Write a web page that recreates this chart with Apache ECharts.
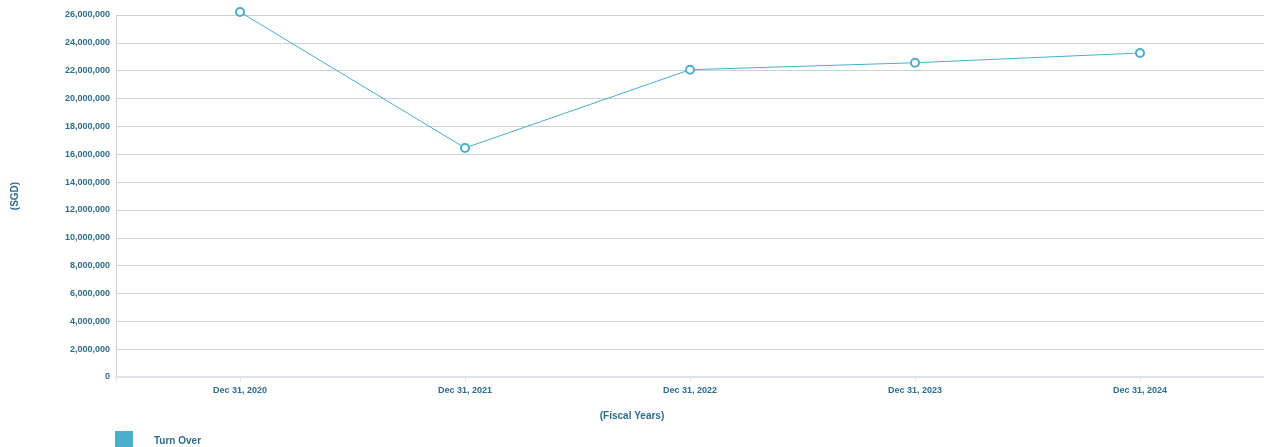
<!DOCTYPE html>
<html>
<head>
<meta charset="utf-8">
<script src="https://cdn.jsdelivr.net/npm/echarts@6/dist/echarts.min.js"></script>
<style>
html, body { margin: 0; padding: 0; background: #fff; }
#chart { width: 1264px; height: 447px; }
</style>
</head>
<body>
<div id="chart"></div>
<script>
// fiscal year ends and turnover (SGD)
const years = ['Dec 31, 2020', 'Dec 31, 2021', 'Dec 31, 2022', 'Dec 31, 2023', 'Dec 31, 2024'];
const turnOver = [26220000, 16450000, 22070000, 22570000, 23270000];
const seriesName = 'Turn Over';

const textColor = '#2e6c8c';
const lineColor = '#4aaecb';

const chart = echarts.init(document.getElementById('chart'));

chart.setOption({
  animation: false,
  textStyle: { fontFamily: 'Liberation Sans, Arial, sans-serif' },
  grid: { left: 116, right: 0, top: 15, bottom: 70, containLabel: false },
  legend: {
    left: 115,
    top: 431,
    padding: 0,
    itemWidth: 16,
    itemHeight: 18,
    icon: 'rect',
    textStyle: { color: textColor, fontWeight: 'bold', fontSize: 10, padding: [3, 0, 0, 17] },
    data: [{ name: seriesName, itemStyle: { color: lineColor } }]
  },
  graphic: [{
    type: 'text',
    left: 'center',
    top: 411,
    style: { text: '(Fiscal Years)', fill: textColor, font: 'bold 10px Liberation Sans, Arial, sans-serif' }
  }],
  xAxis: {
    type: 'value',
    min: -0.5511,
    max: 4.5511,
    axisLine: { show: true, onZero: false, lineStyle: { color: '#dde2e7', width: 2 } },
    axisTick: { show: true, length: 5, customValues: [-0.5511, 0, 1, 2, 3, 4], lineStyle: { color: '#e2e6ea' } },
    splitLine: { show: false },
    axisLabel: {
      customValues: [0, 1, 2, 3, 4],
      formatter: v => years[Math.round(v)],
      color: textColor,
      fontWeight: 'bold',
      fontSize: 9,
      margin: 9
    }
  },
  yAxis: {
    type: 'value',
    min: 0,
    max: 26000000,
    interval: 2000000,
    name: '(SGD)',
    nameLocation: 'middle',
    nameGap: 96,
    nameTextStyle: { color: textColor, fontWeight: 'bold', fontSize: 10 },
    axisLine: { show: true, onZero: false, lineStyle: { color: '#c9d1d9' } },
    axisTick: { show: false },
    splitLine: { lineStyle: { color: '#c9d1d9' } },
    axisLabel: {
      color: textColor,
      fontWeight: 'bold',
      fontSize: 9,
      margin: 6,
      formatter: v => v.toLocaleString('en-US')
    }
  },
  series: [{
    name: seriesName,
    type: 'line',
    data: turnOver.map((v, i) => [i, v]),
    clip: false,
    symbol: 'emptyCircle',
    symbolSize: 8,
    lineStyle: { color: lineColor, width: 1 },
    itemStyle: { color: lineColor, borderWidth: 2.5, borderColor: lineColor }
  }]
});
</script>
</body>
</html>
